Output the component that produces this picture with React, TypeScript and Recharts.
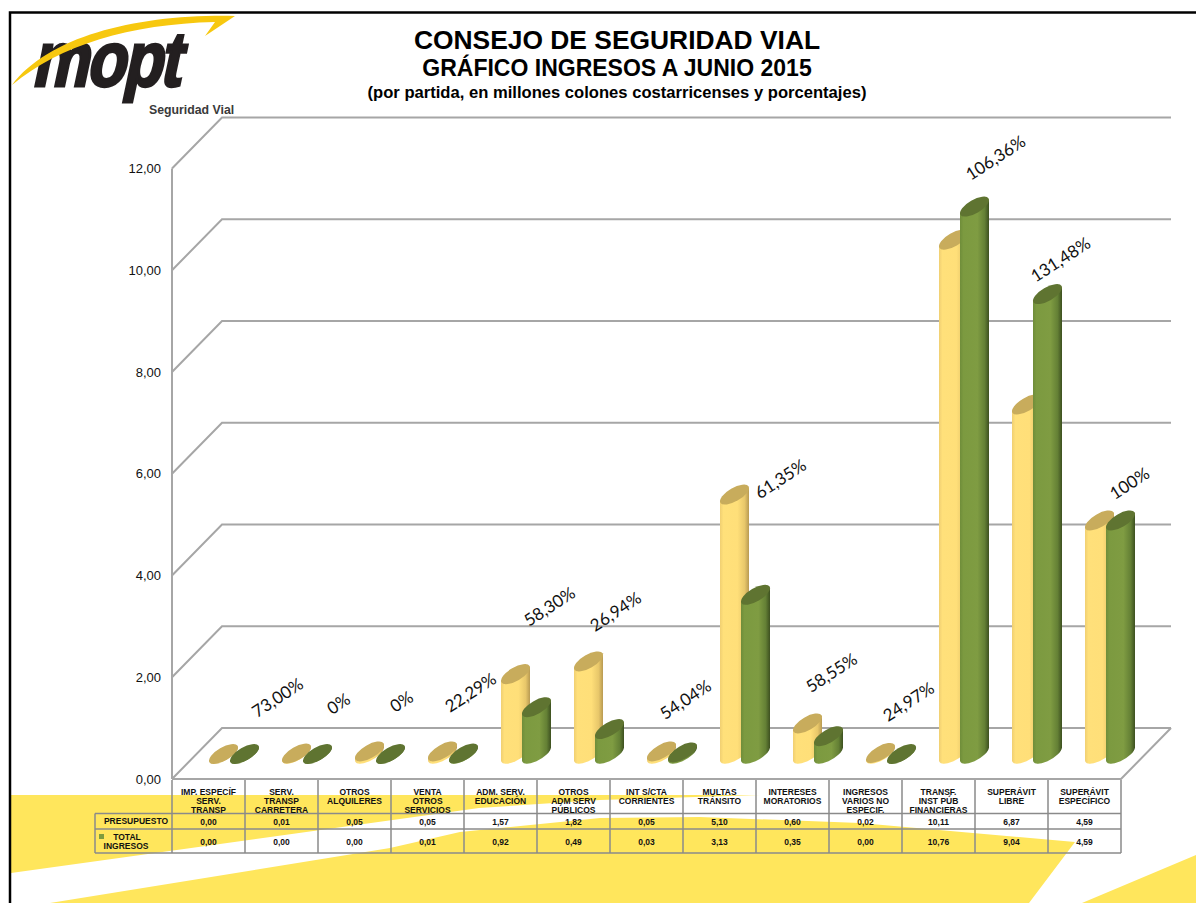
import React from 'react';
import { ComposedChart, Bar, Line, XAxis, YAxis, CartesianGrid, LabelList } from 'recharts';

const categories = [
  ['IMP. ESPECÍF', 'SERV.', 'TRANSP'],
  ['SERV.', 'TRANSP', 'CARRETERA'],
  ['OTROS', 'ALQUILERES'],
  ['VENTA', 'OTROS', 'SERVICIOS'],
  ['ADM. SERV.', 'EDUCACIÓN'],
  ['OTROS', 'ADM SERV', 'PÚBLICOS'],
  ['INT S/CTA', 'CORRIENTES'],
  ['MULTAS', 'TRÁNSITO'],
  ['INTERESES', 'MORATORIOS'],
  ['INGRESOS', 'VARIOS NO', 'ESPECIF.'],
  ['TRANSF.', 'INST PÚB', 'FINANCIERAS'],
  ['SUPERÁVIT', 'LIBRE'],
  ['SUPERÁVIT', 'ESPECÍFICO'],
];
const presupuesto = [0.0, 0.01, 0.05, 0.05, 1.57, 1.82, 0.05, 5.1, 0.6, 0.02, 10.11, 6.87, 4.59];
const totalIngresos = [0.0, 0.0, 0.0, 0.01, 0.92, 0.49, 0.03, 3.13, 0.35, 0.0, 10.76, 9.04, 4.59];
const percentLabels = ['73,00%', '0%', '0%', '22,29%', '58,30%', '26,94%', '54,04%', '61,35%', '58,55%', '24,97%', '106,36%', '131,48%', '100%'];
// height, in axis units, of the anchor under each hand-placed percentage
const percentHeights = [1.11, 0.99, 1.03, 1.21, 2.9, 2.8, 1.07, 5.41, 1.6, 1.03, 11.72, 9.72, 5.32];
const percentShift = [70, 58, 48, 44, 50, 43, 40, 62, 40, 44, 58, 50, 46];
const yTicks = [0, 2, 4, 6, 8, 10, 12];

const rows = categories.map((c, i) => ({
  key: String(i),
  presupuesto: presupuesto[i],
  total: totalIngresos[i],
  pctY: percentHeights[i],
}));

const fmt = (v: number) => v.toFixed(2).replace('.', ',');
const DX = 50;
const DY = 51;
const GRID = '#a6a6a6';
const BORDER = '#8a8a8a';
const ARIAL = '"Liberation Sans", Arial, sans-serif';

const Cylinder = (props: any) => {
  const { x, y, width, height, tone } = props;
  const rx = 16.3;
  const ry = 6.7;
  const hw = width / 2;
  const cx = x + hw + DX / 2;
  const topY = y - DY / 2 + 0.5;
  const baseY = y + height - DY / 2 + 0.5;
  const t = 6.6;
  const body = `M${cx - hw},${topY + t} L${cx - hw},${baseY + t} A${rx},${ry} -30 0 0 ${cx + hw},${baseY - t} L${cx + hw},${topY - t} Z`;
  return (
    <g>
      <path d={body} fill={`url(#grad-${tone})`} />
      <ellipse cx={cx} cy={topY} rx={rx} ry={ry} transform={`rotate(-30 ${cx} ${topY})`} fill={tone === 'y' ? '#C8AC5C' : '#5F7431'} />
    </g>
  );
};

const GridLine = (props: any) => {
  const { x1, x2, y1 } = props;
  const d = `M${x1},${y1} L${x1 + DX},${y1 - DY} L${x2 + DX},${y1 - DY}`;
  return (
    <g key={props.key}>
      <path d={d} fill="none" stroke={GRID} strokeWidth={2} />
      {Math.abs(y1 - 779) < 1 && (
        <path d={`M${x1},${y1} L${x2},${y1} L${x2 + DX},${y1 - DY}`} fill="none" stroke={GRID} strokeWidth={2} />
      )}
    </g>
  );
};

const TableTick = (props: any) => {
  const { x, index } = props;
  const hw = 36.5;
  const left = x - hw;
  const right = x + hw;
  const top = 780;
  const r0 = 813.5;
  const r1 = 829;
  const r2 = 853;
  const lines = categories[index];
  const txt = { fontFamily: ARIAL, fontSize: 8.5, fontWeight: 700, fill: '#111', textAnchor: 'middle' as const };
  return (
    <g>
      {index === 0 && (
        <g>
          <path d={`M95,${r0} L${left},${r0} M95,${r1} L${left},${r1} M95,${r2} L${left},${r2} M95,${r0} L95,${r2}`} stroke={BORDER} strokeWidth={1.5} fill="none" />
          <text {...txt} x={136} y={824}>PRESUPUESTO</text>
          <text {...txt} x={127} y={840}>TOTAL</text>
          <text {...txt} x={126} y={849}>INGRESOS</text>
          <rect x={99} y={834} width={5} height={5} fill="#7D9C3E" />
          <rect x={left - 0.75} y={top} width={1.5} height={r2 - top} fill={BORDER} />
        </g>
      )}
      <path d={`M${right},${top} L${right},${r2} M${left},${r0} L${right},${r0} M${left},${r1} L${right},${r1} M${left},${r2} L${right},${r2}`} stroke={BORDER} strokeWidth={1.5} fill="none" />
      {lines.map((l, i) => (
        <text key={i} {...txt} x={x} y={794.5 + i * 9}>{l}</text>
      ))}
      <text {...txt} x={x} y={825}>{fmt(presupuesto[index])}</text>
      <text {...txt} x={x} y={845}>{fmt(totalIngresos[index])}</text>
    </g>
  );
};

const PercentLabel = (props: any) => {
  const { x, y, index } = props;
  const px = x + percentShift[index];
  const py = y - 23.5;
  return (
    <text x={px} y={py} transform={`rotate(-33 ${px} ${py})`} textAnchor="middle" dominantBaseline="middle" fontFamily="Lato, sans-serif" fontSize={17} fill="#111">
      {percentLabels[index]}
    </text>
  );
};

const Backdrop = () => (
  <svg width={1196} height={903} style={{ position: 'absolute', left: 0, top: 0 }}>
    <rect width={1196} height={903} fill="#fff" />
    <path d="M10,795 L760,795 L600,800 L479,808 L11,873 Z" fill="#FFE65C" />
    <path d="M50,903 L390,848 L460,832 L600,818 L700,817 L860,823 L1075,842 L1029,903 Z" fill="#FFE65C" />
    <path d="M1082,903 L1196,855 L1196,903 Z" fill="#FFE65C" />
    <path d="M10,903 L10,12.5 L1196,12.5" fill="none" stroke="#000" strokeWidth={2.5} />
    <g transform="translate(31,86) skewX(-12) scale(0.8,0.97)">
      <text x={0} y={0} fontFamily={ARIAL} fontWeight={700} fontSize={80} letterSpacing={-3} fill="#231F20" stroke="#231F20" strokeWidth={3}>mopt</text>
    </g>
    <path d="M12,85 C60,45 130,24 215,22 L205,36 L235,16 C140,14 50,35 12,85 Z" fill="#F7C80F" />
    <text x={149} y={113.5} fontFamily={ARIAL} fontWeight={700} fontSize={12.3} fill="#3a3a3a">Seguridad Vial</text>
    <g fontFamily={ARIAL} fontWeight={700} fill="#000" textAnchor="middle">
      <text x={617} y={49} fontSize={26.4}>CONSEJO DE SEGURIDAD VIAL</text>
      <text x={617} y={76} fontSize={23}>GRÁFICO INGRESOS A JUNIO 2015</text>
      <text x={617} y={98} fontSize={16.6}>(por partida, en millones colones costarricenses y porcentajes)</text>
    </g>
  </svg>
);

export default function App() {
  return (
    <div style={{ position: 'absolute', left: 0, top: 0, width: 1196, height: 903, overflow: 'hidden' }}>
      <Backdrop />
      <div style={{ position: 'absolute', left: 0, top: 0 }}>
        <ComposedChart width={1196} height={903} data={rows} margin={{ left: 112, right: 75, top: 168.5, bottom: 0 }} barSize={29} barGap={-8}>
          <defs>
            <linearGradient id="grad-y" x1="0" x2="1" y1="0" y2="0">
              <stop offset="0" stopColor="#F0CF72" />
              <stop offset="0.12" stopColor="#FFE07A" />
              <stop offset="0.6" stopColor="#FFDF79" />
              <stop offset="0.85" stopColor="#E8C76A" />
              <stop offset="1" stopColor="#B89A52" />
            </linearGradient>
            <linearGradient id="grad-g" x1="0" x2="1" y1="0" y2="0">
              <stop offset="0" stopColor="#6F8D3A" />
              <stop offset="0.12" stopColor="#7C9A40" />
              <stop offset="0.6" stopColor="#7F9C42" />
              <stop offset="0.85" stopColor="#648035" />
              <stop offset="1" stopColor="#3D5020" />
            </linearGradient>
          </defs>
          <CartesianGrid vertical={false} horizontal={GridLine as any} />
          <XAxis dataKey="key" height={124} axisLine={false} tickLine={false} tick={TableTick as any} interval={0} />
          <YAxis
            width={60}
            domain={[0, 12]}
            ticks={yTicks}
            tickFormatter={fmt}
            axisLine={{ stroke: GRID, strokeWidth: 2 }}
            tickLine={false}
            tickSize={0}
            tickMargin={11}
            tick={{ fontFamily: ARIAL, fontSize: 13, fill: '#111' }}
          />
          <Bar dataKey="presupuesto" isAnimationActive={false} shape={(p: any) => <Cylinder {...p} tone="y" />} />
          <Bar dataKey="total" isAnimationActive={false} shape={(p: any) => <Cylinder {...p} tone="g" />} />
          <Line dataKey="pctY" stroke="none" dot={false} activeDot={false} isAnimationActive={false}>
            <LabelList dataKey="pctY" content={PercentLabel as any} />
          </Line>
        </ComposedChart>
      </div>
    </div>
  );
}
